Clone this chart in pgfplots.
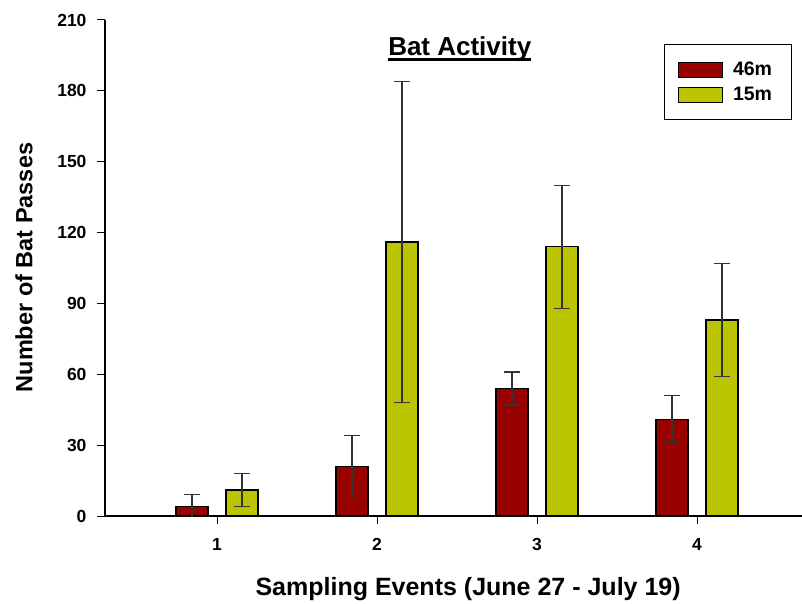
\documentclass[border=0pt]{standalone}
\usepackage{pgfplots}
\pgfplotsset{compat=1.18}
\usepackage{pgfplotstable}
\usepackage{fontspec}
\setmainfont{Liberation Sans}
\definecolor{barred}{RGB}{153,0,0}
\definecolor{baryel}{RGB}{187,196,0}
\pgfplotstableread{
x y err
1 4 5
2 21 13
3 54 7
4 41 10
}\redtab
\pgfplotstableread{
x y err
1 11 7
2 116 68
3 114 26
4 83 24
}\yeltab
\begin{document}
\begin{tikzpicture}
\begin{axis}[
  scale only axis,
  width=697bp, height=496bp,
  xmin=0.3, xmax=4.656,
  ymin=0, ymax=210,
  axis x line=bottom, axis y line=left,
  axis line style={-, line width=1.2bp},
  xtick={1,2,3,4}, ytick={0,30,...,210},
  tick align=outside,
  major tick length=8bp,
  tick style={line width=1bp, black},
  /pgf/number format/assume math mode=true,
  ticklabel style={font=\fontsize{17.5bp}{20bp}\selectfont\bfseries},
  xticklabel style={yshift=-11bp},
  yticklabel style={xshift=-7bp},
  xlabel={Sampling Events (June 27 - July 19)},
  ylabel={Number of Bat Passes},
  xlabel style={font=\fontsize{25bp}{29bp}\selectfont\bfseries, at={(axis description cs:0.521,0)}, anchor=center, yshift=-73bp},
  ylabel style={font=\fontsize{23.5bp}{27bp}\selectfont\bfseries, at={(axis description cs:0,0.501)}, anchor=center, yshift=81bp},
  ybar, bar width=0.2,
  legend style={at={(0.9857,0.9516)}, anchor=north east, draw=black, line width=1bp,
    font=\fontsize{19.5bp}{24bp}\selectfont\bfseries, inner xsep=13.5bp, inner ysep=17bp,
    row sep=9bp, column sep=10bp, nodes={inner sep=0pt}},
  legend cell align=left,
  legend image code/.code={\draw[#1, line width=1bp] (0bp,-7.5bp) rectangle (44bp,7.5bp);},
  error bars/error mark=|,
  error bars/error bar style={line width=1.2bp, black!80},
  error bars/error mark options={line width=1.2bp, black!80, mark size=8bp},
]
\addplot[fill=barred, draw=black, line width=1.2bp, bar shift=-0.156,
  error bars/.cd, y dir=both, y explicit]
  table[x=x, y=y, y error=err] {\redtab};
\addlegendentry{46m\rule{6bp}{0pt}}
\addplot[fill=baryel, draw=black, line width=1.2bp, bar shift=0.156,
  error bars/.cd, y dir=both, y explicit]
  table[x=x, y=y, y error=err] {\yeltab};
\addlegendentry{15m\rule{6bp}{0pt}}
\node[font=\fontsize{26bp}{30bp}\selectfont\bfseries, inner sep=0pt, anchor=base] (t) at (axis description cs:0.509,0.9294) {Bat Activity};
\draw[line width=2.5bp] ([yshift=-4.7bp]t.base west) -- ([yshift=-4.7bp]t.base east);
\end{axis}
\pgfresetboundingbox
\path (-105bp,-88bp) rectangle (697bp,516bp);
\end{tikzpicture}
\end{document}
